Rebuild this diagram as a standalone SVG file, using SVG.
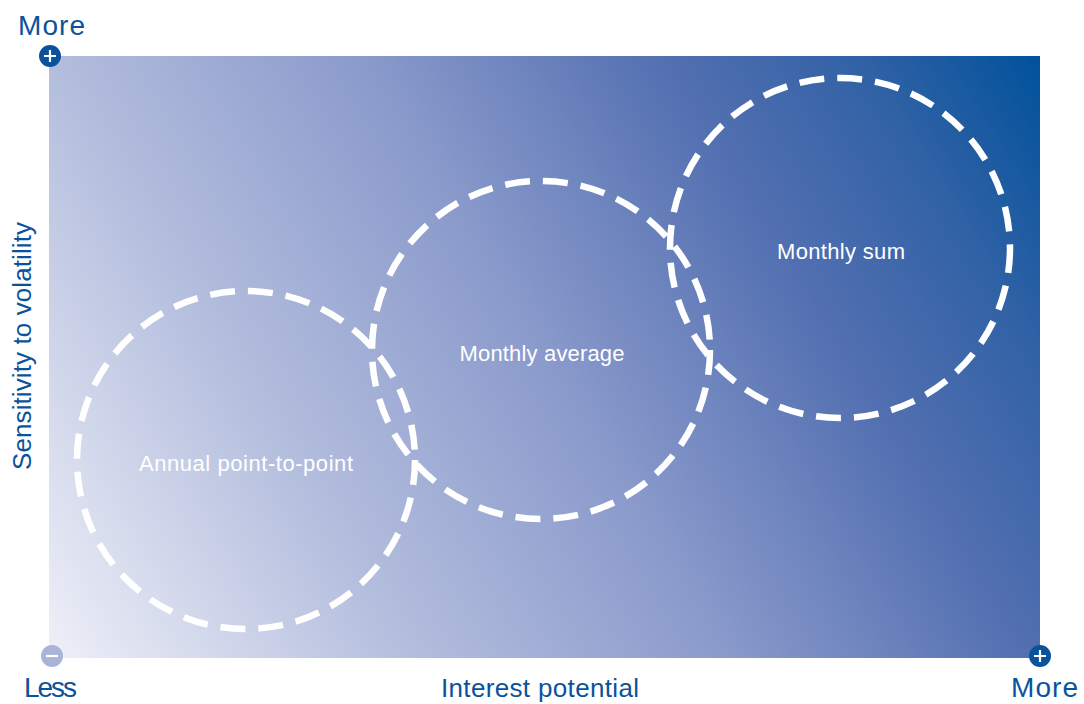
<svg xmlns="http://www.w3.org/2000/svg" width="1084" height="704" viewBox="0 0 1084 704">
<style>
.lbl{font-family:"Liberation Sans",Arial,sans-serif;fill:#0a539c}
.clbl{font-family:"Liberation Sans",Arial,sans-serif;fill:#ffffff;font-size:22px;text-anchor:middle}
.ring{fill:none;stroke:#ffffff;stroke-width:6.5;stroke-dasharray:25 13}
</style>
<defs>
<linearGradient id="bg" gradientUnits="userSpaceOnUse" x1="49" y1="658" x2="1040" y2="56">
<stop offset="0" stop-color="#eef0f8"/>
<stop offset="0.27" stop-color="#b3bddd"/>
<stop offset="0.5" stop-color="#8a9acb"/>
<stop offset="0.72" stop-color="#5370b1"/>
<stop offset="0.86" stop-color="#3262a6"/>
<stop offset="1" stop-color="#00529b"/>
</linearGradient>
</defs>
<rect id="plot" x="49" y="56" width="991" height="602" fill="url(#bg)"/>
<g id="connectors"></g>
<g id="annual">
<circle class="ring" cx="246" cy="460" r="169"/>
<text class="clbl" x="246" y="471" textLength="214">Annual point-to-point</text>
</g>
<g id="average">
<circle class="ring" cx="541" cy="350" r="169"/>
<text class="clbl" x="542" y="361" textLength="165">Monthly average</text>
</g>
<g id="sum">
<circle class="ring" cx="840" cy="248" r="170"/>
<text class="clbl" x="841" y="259" textLength="128">Monthly sum</text>
</g>
<g id="axes">
<circle cx="50" cy="56" r="11" fill="#0a539c"/>
<path d="M44 56h12M50 50v12" stroke="#fff" stroke-width="2.2"/>
<circle cx="52" cy="656" r="11" fill="#a9b4d8"/>
<path d="M46 656h12" stroke="#fff" stroke-width="2.2"/>
<circle cx="1040" cy="656" r="11" fill="#0a539c"/>
<path d="M1034 656h12M1040 650v12" stroke="#fff" stroke-width="2.2"/>
<text class="lbl" x="18" y="35" font-size="28" textLength="67">More</text>
<text class="lbl" x="24" y="697" font-size="28" textLength="53">Less</text>
<text class="lbl" x="1011" y="697" font-size="28" textLength="67">More</text>
<text class="lbl" x="540" y="697" font-size="26" text-anchor="middle" textLength="198">Interest potential</text>
<text class="lbl" x="0" y="0" font-size="26" text-anchor="middle" textLength="248" transform="translate(31 346) rotate(-90)">Sensitivity to volatility</text>
</g>
</svg>
